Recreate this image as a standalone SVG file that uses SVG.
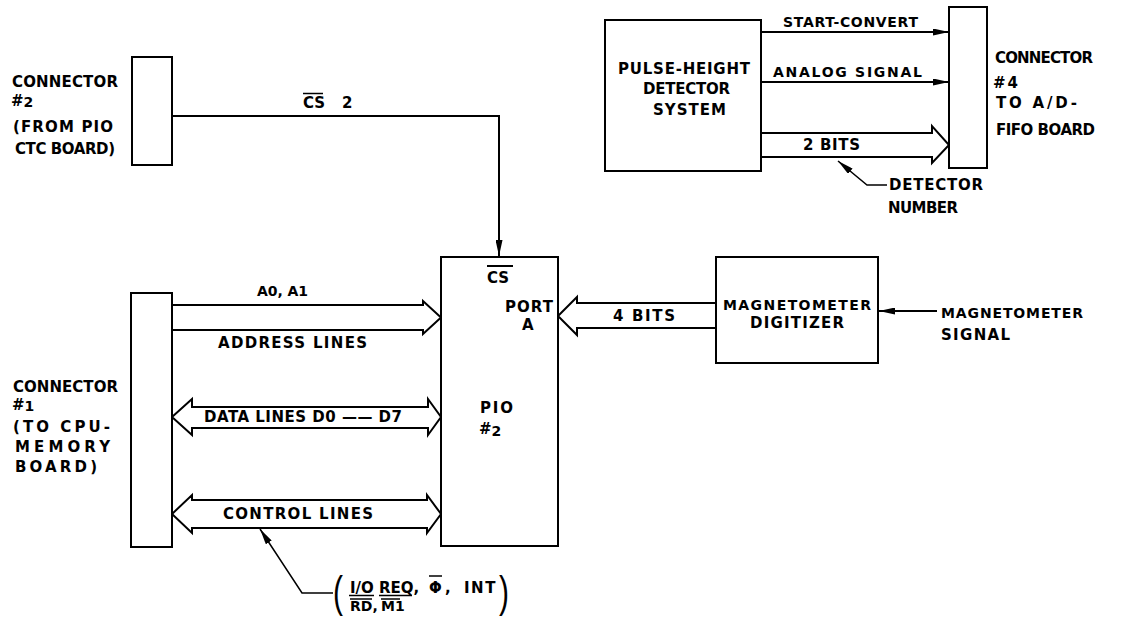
<svg xmlns="http://www.w3.org/2000/svg" width="1123" height="619" viewBox="0 0 1123 619">
<style>
.t{font-family:"DejaVu Sans","Liberation Sans",Arial,sans-serif;font-weight:bold;font-size:15px;fill:#000}
.s{font-size:13px}
.m{font-size:14px}
.box{fill:#fff;stroke:#000;stroke-width:2}
.ln{fill:none;stroke:#000;stroke-width:2}
.thin{fill:none;stroke:#000;stroke-width:1.5}
.bus{fill:#fff;stroke:#000;stroke-width:2;stroke-linejoin:miter}
.par{font-family:"Liberation Sans",Arial,sans-serif;font-weight:normal;font-size:30px;fill:#000}
</style>
<defs>
<marker id="ah" viewBox="0 0 16 7" markerWidth="16" markerHeight="7" refX="16" refY="3.5" orient="auto" markerUnits="userSpaceOnUse">
<path d="M0,0 L16,3.5 L0,7 Z" fill="#000"/>
</marker>
</defs>
<rect width="1123" height="619" fill="#fff"/>

<g id="connectors">
<polyline class="ln" points="172,116 499,116 499,256" marker-end="url(#ah)"/>
<line class="ln" x1="761" y1="32" x2="949" y2="32" marker-end="url(#ah)"/>
<line class="ln" x1="761" y1="82" x2="949" y2="82" marker-end="url(#ah)"/>
<path class="bus" d="M761,133 H932 V126 L949,145 L932,163 V157 H761"/>
<polyline class="thin" points="887,185 867,185 838,161" marker-end="url(#ah)"/>
<line class="ln" x1="937" y1="311" x2="879" y2="311" marker-end="url(#ah)"/>
<path class="bus" d="M716,303 H577 V297 L558,316 L577,335 V328 H716"/>
<path class="bus" d="M172,305 H423 V301 L441,317.5 L423,334 V330 H172"/>
<path class="bus" d="M192,407 H428 V399 L441,417 L428,435 V428 H192 V435 L172,417 L192,399 Z"/>
<path class="bus" d="M192,500 H427 V495 L441,514 L427,533 V528 H192 V533 L172,514 L192,495 Z"/>
<polyline class="thin" points="333,593 302,593 260,529" marker-end="url(#ah)"/>
</g>

<g id="connector2">
<rect class="box" x="132" y="57" width="40" height="108"/>
<text class="t" x="12" y="87" textLength="106">CONNECTOR</text>
<text class="t" x="11" y="106">#<tspan class="m" dy="1">2</tspan></text>
<text class="t" x="13" y="132" textLength="100">(FROM PIO</text>
<text class="t" x="15" y="154" textLength="100">CTC BOARD)</text>
</g>

<g id="cs2label">
<text class="t" x="303" y="108">CS</text>
<line class="thin" x1="303" y1="93.5" x2="323" y2="93.5"/>
<text class="t" x="342" y="108">2</text>
</g>

<g id="connector1">
<rect class="box" x="131" y="293" width="41" height="254"/>
<text class="t" x="13" y="392" textLength="105">CONNECTOR</text>
<text class="t" x="12" y="410">#<tspan class="m" dy="1">1</tspan></text>
<text class="t" x="13" y="432" textLength="97">(TO CPU-</text>
<text class="t" x="15" y="452" textLength="95">MEMORY</text>
<text class="t" x="15" y="472" textLength="82">BOARD)</text>
</g>

<g id="buslabels">
<text class="t m" x="257" y="296" textLength="51">A0, A1</text>
<text class="t" x="218" y="348" textLength="149">ADDRESS LINES</text>
<text class="t" x="204" y="422" textLength="198">DATA LINES D0 —— D7</text>
<text class="t" x="223" y="519" textLength="150">CONTROL LINES</text>
<text class="t" x="613" y="321" textLength="62">4 BITS</text>
<text class="t" x="803" y="150" textLength="57">2 BITS</text>
<text class="t m" x="783" y="27" textLength="135">START-CONVERT</text>
<text class="t m" x="773" y="77" textLength="149">ANALOG  SIGNAL</text>
</g>

<g id="pio2">
<rect class="box" x="441" y="257" width="117" height="289"/>
<text class="t" x="487" y="283">CS</text>
<line class="ln" x1="487" y1="266" x2="513" y2="266"/>
<text class="t" x="505" y="312" textLength="48">PORT</text>
<text class="t" x="522" y="330">A</text>
<text class="t" x="480" y="413" textLength="33">PIO</text>
<text class="t" x="479" y="434">#<tspan class="m" dy="2">2</tspan></text>
</g>

<g id="magdigitizer">
<rect class="box" x="716" y="257" width="162" height="106"/>
<text class="t m" x="723" y="310" textLength="148">MAGNETOMETER</text>
<text class="t" x="750" y="328" textLength="94">DIGITIZER</text>
</g>

<g id="magsignal">
<text class="t m" x="941" y="318" textLength="142">MAGNETOMETER</text>
<text class="t" x="941" y="340" textLength="69">SIGNAL</text>
</g>

<g id="pulseheight">
<rect class="box" x="605" y="20" width="156" height="151"/>
<text class="t" x="618" y="74" textLength="132">PULSE-HEIGHT</text>
<text class="t" x="643" y="94" textLength="87">DETECTOR</text>
<text class="t" x="653" y="115" textLength="73">SYSTEM</text>
</g>

<g id="connector4">
<rect class="box" x="949" y="7" width="38" height="161"/>
<text class="t" x="995" y="63" textLength="98">CONNECTOR</text>
<text class="t" x="993" y="88">#<tspan dx="2">4</tspan></text>
<text class="t" x="996" y="108" textLength="81">TO A/D-</text>
<text class="t" x="996" y="135" textLength="99">FIFO BOARD</text>
</g>

<g id="detectornumber">
<text class="t" x="889" y="190" textLength="94">DETECTOR</text>
<text class="t" x="888" y="213" textLength="70">NUMBER</text>
</g>

<g id="controlnote">
<text class="par" transform="translate(333,607) scale(1,1.5)">(</text>
<text class="par" transform="translate(499,607) scale(1,1.5)">)</text>
<text class="t" x="350" y="593">I/O</text>
<text class="t" x="379" y="593">REQ,</text>
<line class="thin" x1="349" y1="595.5" x2="374" y2="595.5"/>
<line class="thin" x1="379" y1="595.5" x2="412" y2="595.5"/>
<text class="t" x="429" y="593">Φ</text>
<line class="thin" x1="429" y1="576" x2="442" y2="576"/>
<text class="t" x="445" y="593">,</text>
<text class="t" x="464" y="593" letter-spacing="1.5">INT</text>
<text class="t m" x="350" y="611">RD,</text>
<text class="t m" x="381" y="611">M1</text>
<line class="thin" x1="350" y1="599" x2="372" y2="599"/>
<line class="thin" x1="381" y1="599" x2="400" y2="599"/>
</g>
</svg>
